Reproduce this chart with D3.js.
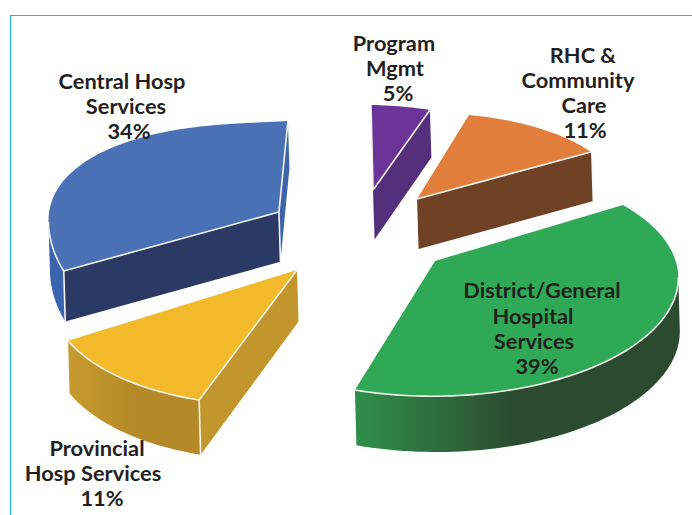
<!DOCTYPE html>
<html>
<head>
<meta charset="utf-8">
<style>
html,body{margin:0;padding:0;background:#fff}
svg{display:block}
text{font-family:Lato,"Open Sans",sans-serif;font-weight:700;fill:#231f20}
</style>
<script src="https://cdn.jsdelivr.net/npm/d3@7/dist/d3.min.js"></script>
</head>
<body>
<svg id="c" width="692" height="515"></svg>
<script>
// ---- data (clockwise from 12 o'clock) ----
const categories = ["Program Mgmt","RHC & Community Care","District/General Hospital Services","Provincial Hosp Services","Central Hosp Services"];
const values = [5,11,39,11,34];
const labelLines = [
  ["Program","Mgmt"],
  ["RHC &","Community","Care"],
  ["District/General","Hospital","Services"],
  ["Provincial","Hosp Services"],
  ["Central Hosp","Services"]
];
// ---- styles ----
const topColors   = ["#6c3499","#e27e3b","#2fa955","#f2b92b","#4a70b5"];
const radialColors= ["#542f7c","#6f4226","#2c4a32","#c2962c","#2b3a64"];
const endWallColors=["#542f7c","#6f4226","#2c4a32","#c2962c","#3d64aa"];
const arcWallStops= [["#542f7c","#542f7c"],["#6f4226","#6f4226"],["#2f8f4a","#2b4a30"],["#c79b2d","#b58927"],["#3a64ad","#3a64ad"]];
// ---- explosion of each slice in the pie plane ----
const explodeU = [0.114,0.323,0.399,-0.201,-0.327];
const explodeV = [0.453,0.345,-0.258,-0.319,0.246];
// ---- the printed picture is warped: radius factors at start/end of each rim, rim bulge, edge angle nudges (deg) ----
const radiusStart = [1.041,0.999,0.971,1.057,1.098];
const radiusEnd   = [0.98,0.952,1.047,1.097,1.075];
const rimBulge    = [0,0,0,0,0.17];
const nudgeStart  = [-2,-2.3,2.2,-0.9,2.9];
const nudgeEnd    = [-1.5,3.7,-0.6,0.6,-2];
// ---- label layout ----
const labelX = [[394,395,398],[583,578,584,585],[542,533,534,537],[97,93,102],[122,126,129]];
const labelY = [[51,76,101],[63,88,113,138],[298,324,349,374],[456,481,506],[89,114,139]];

// camera: homography of the pie plane on to the screen
const cam = {a:207.1,b:53.5,c:345.6,d:-12.82,e:-72.94,f:234.9,g:-0.0351,h:0.1293};
const project = (u,v) => {
  const w = 1 + cam.g*u + cam.h*v;
  const x = (cam.a*u + cam.b*v + cam.c)/w, y = (cam.d*u + cam.e*v + cam.f)/w;
  return {x,y,w};
};
const drop = p => [p.x + 1.5, p.y + 27.7 + 23/p.w];   // extrusion depth, larger when closer
const svg = d3.select("#c");
const defs = svg.append("defs");

// frame
svg.append("path").attr("d","M10.5,515V15.5H692").attr("fill","none").attr("stroke","#1fb5ee").attr("stroke-width",1.2);

const pie = d3.pie().sort(null).startAngle(0).endAngle(2*Math.PI);
const arcs = pie(values);
const line = d3.line();
const poly = pts => line(pts)+"Z";
const rad = Math.PI/180;
const edgeStroke = sel => sel.attr("fill","none").attr("stroke","#f4f4ee").attr("stroke-width",1.6).attr("stroke-linejoin","round");

const drawOrder = [0,1,4,3,2];
drawOrder.forEach(i=>{
  const a = arcs[i];
  const g = svg.append("g").attr("class","slice").datum(categories[i]);
  const ou = explodeU[i], ov = explodeV[i];
  const apex = project(ou,ov);
  const a0 = a.startAngle + nudgeStart[i]*rad, a1 = a.endAngle + nudgeEnd[i]*rad;
  const n = Math.max(8,Math.round((a1-a0)*40));
  const rim = d3.range(n+1).map(j=>{
    const f = j/n, t = a0 + (a1-a0)*f;
    const s = Math.sin(Math.PI*Math.pow(f,1.2));
    const k = (radiusStart[i] + (radiusEnd[i]-radiusStart[i])*f)*(1 + rimBulge[i]*s*s);
    return project(ou+k*Math.sin(t), ov+k*Math.cos(t));
  });
  const first = rim[0], last = rim[n];

  const wall = (p,q,fill) => g.append("path").attr("d",poly([[p.x,p.y],[q.x,q.y],drop(q),drop(p)])).attr("fill",fill);
  const edges = [];
  if (first.x < apex.x) { wall(apex,first,radialColors[i]); edges.push([apex,first]); }
  if (last.x > apex.x) { wall(last,apex,endWallColors[i]); edges.push([last,apex]); }

  // rim wall: only the part running leftwards on screen faces the viewer
  const front = [];
  for (let j=0;j<n;j++) if (rim[j+1].x < rim[j].x) { if(!front.length) front.push(rim[j]); front.push(rim[j+1]); }
  if (front.length>1) {
    const id = "rim"+i;
    const gr = defs.append("linearGradient").attr("id",id).attr("x1",1).attr("x2",0).attr("y1",0).attr("y2",0);
    gr.append("stop").attr("offset",0).attr("stop-color",arcWallStops[i][1]);
    gr.append("stop").attr("offset",0.5).attr("stop-color",arcWallStops[i][1]);
    gr.append("stop").attr("offset",1).attr("stop-color",arcWallStops[i][0]);
    const pts = front.map(p=>[p.x,p.y]).concat(front.slice().reverse().map(drop));
    g.append("path").attr("d",poly(pts)).attr("fill",`url(#${id})`);
    edges.push(front);
  }

  // top face
  const top = [[apex.x,apex.y]].concat(rim.map(p=>[p.x,p.y]));
  g.append("path").attr("d",poly(top)).attr("fill",topColors[i]);

  // pale highlights on the edges between top face and walls
  edges.forEach(e=>{
    g.append("path").attr("d",line(e.map(p=>[p.x,p.y]))).call(edgeStroke);
  });
  // vertical corner highlights
  const corners = [];
  if (first.x < apex.x && front.length>1 && i!==2) corners.push(first);
  if (last.x > apex.x && i===4) corners.push(apex);
  corners.forEach(p=>g.append("path").attr("d",line([[p.x,p.y],drop(p)])).call(edgeStroke));
});

// labels
labelLines.forEach((lines,i)=>{
  const all = lines.concat([values[i]+"%"]);
  all.forEach((t,j)=>{
    svg.append("text").attr("x",labelX[i][j]).attr("y",labelY[i][j])
      .attr("text-anchor","middle").attr("font-size",21.8).text(t);
  });
});
</script>
</body>
</html>
